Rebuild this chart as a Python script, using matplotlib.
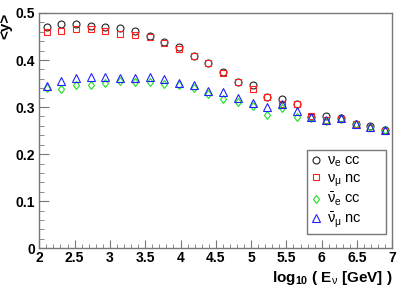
import numpy as np
import matplotlib
matplotlib.use("Agg")
import matplotlib.pyplot as plt
from matplotlib.ticker import MultipleLocator

# bin centres: 24 bins from 2 to 7
edges = np.linspace(2, 7, 25)
x = 0.5 * (edges[:-1] + edges[1:])

nue_cc = [0.470, 0.476, 0.476, 0.472, 0.470, 0.467, 0.462, 0.451, 0.439, 0.428, 0.408, 0.394,
          0.375, 0.354, 0.347, 0.321, 0.318, 0.306, 0.279, 0.281, 0.276, 0.265, 0.260, 0.251]
numu_nc = [0.460, 0.461, 0.466, 0.466, 0.461, 0.456, 0.453, 0.448, 0.437, 0.424, 0.408, 0.393,
           0.373, 0.354, 0.338, 0.321, 0.306, 0.307, 0.281, 0.272, 0.274, 0.264, 0.255, 0.249]
nuebar_cc = [0.340, 0.338, 0.347, 0.346, 0.352, 0.355, 0.354, 0.354, 0.350, 0.347, 0.340, 0.328,
             0.318, 0.310, 0.302, 0.283, 0.299, 0.279, 0.277, 0.271, 0.274, 0.264, 0.258, 0.251]
numubar_nc = [0.344, 0.355, 0.361, 0.363, 0.364, 0.361, 0.361, 0.364, 0.359, 0.352, 0.347, 0.335,
              0.331, 0.320, 0.308, 0.301, 0.306, 0.291, 0.279, 0.272, 0.276, 0.264, 0.257, 0.251]

labels = [r"$\nu_{e}$ cc", r"$\nu_{\mu}$ nc", r"$\bar{\nu}_{e}$ cc", r"$\bar{\nu}_{\mu}$ nc"]
series = [nue_cc, numu_nc, nuebar_cc, numubar_nc]
markers = ["o", "s", "d", "^"]
colors = ["#222222", "#ff2020", "#20e020", "#2020ff"]
sizes = [5.0, 5.0, 4.5, 5.5]

plt.rcParams['font.family'] = ['Liberation Sans', 'DejaVu Sans']
plt.rcParams['mathtext.fontset'] = 'custom'
plt.rcParams['mathtext.rm'] = 'Liberation Sans'
plt.rcParams['mathtext.it'] = 'Liberation Sans'
plt.rcParams['mathtext.bf'] = 'Liberation Sans:bold'

fig = plt.figure(figsize=(4.03, 2.88), dpi=100)
ax = fig.add_axes([0.0975, 0.138, 0.876, 0.817])

for vals, m, c, s, lab in zip(series, markers, colors, sizes, labels):
    ax.plot(x, vals, linestyle='none', marker=m, markerfacecolor='none',
            markeredgecolor=c, markersize=s, markeredgewidth=0.8, label=lab)

ax.set_xlim(2, 7)
ax.set_ylim(0, 0.5)
ax.xaxis.set_major_locator(MultipleLocator(0.5))
ax.xaxis.set_minor_locator(MultipleLocator(0.1))
ax.yaxis.set_major_locator(MultipleLocator(0.1))
ax.yaxis.set_minor_locator(MultipleLocator(0.02))
ax.tick_params(which='both', direction='in', top=False, right=False, color='#777777')
ax.tick_params(axis='x', which='major', length=6, pad=2)
ax.tick_params(axis='x', which='minor', length=3)
ax.tick_params(axis='y', which='major', length=7, pad=3)
ax.tick_params(axis='y', which='minor', length=3.5)

def fmt(v, pos):
    s = ("%.1f" % v).rstrip('0').rstrip('.')
    return s
ax.xaxis.set_major_formatter(plt.FuncFormatter(fmt))
ax.yaxis.set_major_formatter(plt.FuncFormatter(fmt))
for lab in ax.get_xticklabels() + ax.get_yticklabels():
    lab.set_fontweight('bold')
    lab.set_fontsize(10)

for sp in ax.spines.values():
    sp.set_color('#777777')
    sp.set_linewidth(1.0)

ax.set_ylabel("<y>", loc='top', fontweight='bold', fontsize=11, labelpad=2)
ax.set_xlabel(r"log$_{\mathbf{10}}$ ( E$_{\nu}$ [GeV] )", loc='right', fontweight='bold',
              fontsize=11, labelpad=3)

leg = ax.legend(loc='lower left', bbox_to_anchor=(0.758, 0.061, 0.223, 0.344), mode='expand',
                fontsize=10.5, frameon=True, fancybox=False, framealpha=1, edgecolor='#777777',
                handlelength=0.6, handletextpad=0.5, labelspacing=0.15, borderpad=0.3,
                borderaxespad=0)
leg.get_frame().set_linewidth(1.0)

fig.savefig("out.png", dpi=100)
